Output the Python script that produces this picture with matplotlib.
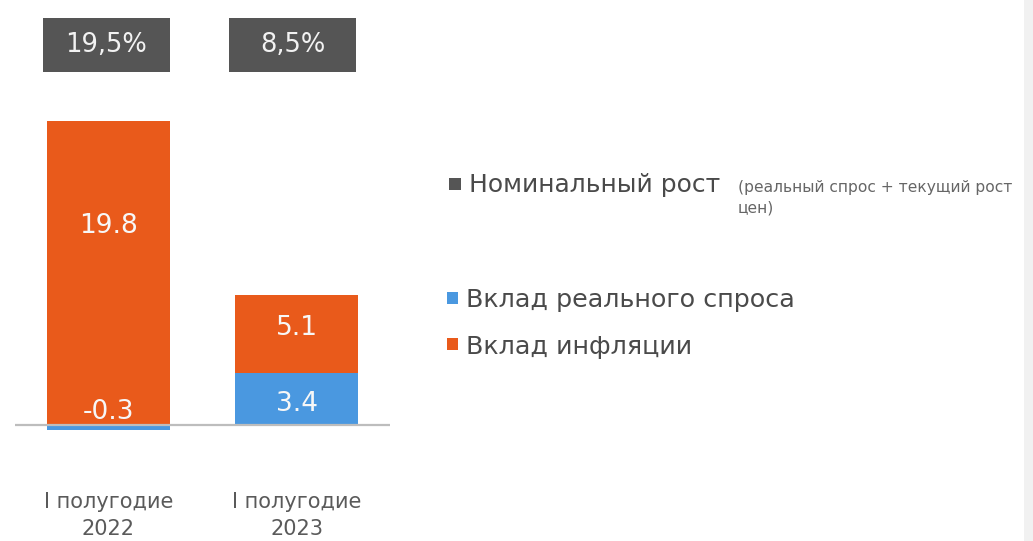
import matplotlib.pyplot as plt
from matplotlib.patches import Rectangle
import matplotlib.transforms as mtransforms

plt.rcParams['font.family'] = ['DejaVu Sans']

# Data
categories = ['I полугодие\n2022', 'I полугодие\n2023']
real_demand = [-0.3, 3.4]
inflation = [19.8, 5.1]
nominal = ['19,5%', '8,5%']
legend_labels = ['Номинальный рост', 'Вклад реального спроса', 'Вклад инфляции']
legend_note = '(реальный спрос + текущий рост\nцен)'

orange = '#E95A1B'
blue = '#4A98E0'
dark = '#555555'
txt = '#4a4a4a'

W, H = 1033, 541
fig = plt.figure(figsize=(W / 100, H / 100), dpi=100)

def fx(px):
    return px / W

def fy(py):
    return 1 - py / H

# axes: x in category units, y in value units
ax = fig.add_axes([fx(15), fy(440.4), fx(375), 330 / H])
x = list(range(len(categories)))
bw = 0.654
ax.set_xlim(-0.497, 1.497)
ax.set_ylim(-1, 20.5)
ax.axis('off')

ax.bar(x, real_demand, width=bw, color=blue, zorder=2)
ax.bar(x, inflation, width=bw, bottom=[max(v, 0) for v in real_demand],
       color=orange, zorder=2)
ax.axhline(0, color='#bdbdbd', lw=1.6, zorder=3)

# bar labels
lab_kw = dict(ha='center', va='center', color='#f7f7f7', fontsize=19, zorder=4)
ax.text(x[0], 13.0, f'{inflation[0]:.1f}', **lab_kw)
ax.text(x[0], 0.85, f'{real_demand[0]:.1f}', **lab_kw)
ax.text(x[1], real_demand[1] / 2 - 0.3, f'{real_demand[1]:.1f}', **lab_kw)
ax.text(x[1], real_demand[1] + inflation[1] / 2 + 0.4, f'{inflation[1]:.1f}', **lab_kw)

# category labels
for i, c in enumerate(categories):
    ax.text(x[i], -5.9, c, ha='center', va='center', color='#5a5a5a',
            fontsize=15, linespacing=1.45, clip_on=False)

# nominal growth boxes above bars
trans = mtransforms.blended_transform_factory(ax.transData, fig.transFigure)
for i, s in enumerate(nominal):
    x0 = x[i] - 0.348 - 0.01 * i
    r = Rectangle((x0, fy(72)), 0.675, 54 / H, transform=trans,
                  facecolor=dark, edgecolor='none', clip_on=False)
    fig.add_artist(r)
    fig.text(x0 + 0.3375, fy(45), s, transform=trans, ha='center', va='center',
             color='#f2f2f2', fontsize=18.5)

# legend
fig.add_artist(Rectangle((fx(449), fy(190)), fx(12), 12 / H, facecolor=dark,
                         edgecolor='none'))
fig.text(fx(469), fy(185), legend_labels[0], ha='left', va='center',
         color=txt, fontsize=18)
fig.text(fx(738), fy(180), legend_note, ha='left', va='top', color='#666666',
         fontsize=11.2, linespacing=1.45)
fig.add_artist(Rectangle((fx(447), fy(304)), fx(11), 12 / H, facecolor=blue,
                         edgecolor='none'))
fig.text(fx(466), fy(300), legend_labels[1], ha='left', va='center',
         color=txt, fontsize=18.3)
fig.add_artist(Rectangle((fx(447), fy(350)), fx(11), 12 / H, facecolor=orange,
                         edgecolor='none'))
fig.text(fx(466), fy(347), legend_labels[2], ha='left', va='center',
         color=txt, fontsize=18.3)

# faint shadow on the right edge
fig.add_artist(Rectangle((fx(1024), 0), fx(9), 1, facecolor='#f1f1f1',
                         edgecolor='none'))

fig.savefig('out.png', dpi=100)
